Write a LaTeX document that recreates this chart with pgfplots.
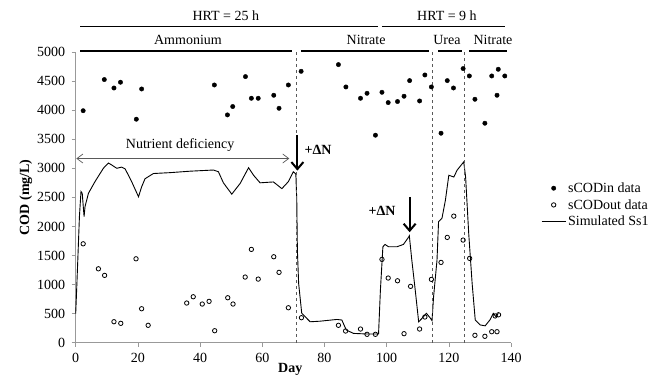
\documentclass[border=0pt]{standalone}
\usepackage{fontspec}
\setmainfont{Liberation Serif}
\usepackage{pgfplots}
\pgfplotsset{compat=1.18}
\usetikzlibrary{arrows.meta}
\newcommand{\ff}{\fontsize{14}{16}\selectfont}
\pgfplotsset{
  legmark/.style={legend image code/.code={\draw[mark repeat=2,mark phase=2,##1] plot coordinates {(0pt,0pt)(12pt,0pt)(24pt,0pt)};}},
  legline/.style={legend image code/.code={\draw[##1] (0pt,0pt)--(24pt,0pt);}},
}
\begin{document}
\begin{tikzpicture}
\useasboundingbox (-75.7pt,-34.3pt) rectangle (580.3pt,342.7pt);
\begin{axis}[
  scale only axis, width=435.3pt, height=290.7pt,
  xmin=0, xmax=140, ymin=0, ymax=5000,
  axis lines*=left,
  axis line style={gray!80, line width=0.6pt},
  tick align=outside,
  major tick length=4pt,
  tick style={gray!80, line width=0.6pt},
  xtick={0,20,...,140},
  ytick={0,500,...,5000},
  /pgf/number format/assume math mode=true,
  /pgf/number format/1000 sep={},
  tick label style={font=\ff, black},
  yticklabel style={xshift=-3pt},
  xticklabel style={yshift=-3pt},
  xlabel={\textbf{Day}},
  ylabel={\textbf{COD (mg/L)}},
  label style={font=\ff},
  xlabel style={at={(axis cs:69,0)}, anchor=center, yshift=-26.5pt},
  ylabel style={yshift=-2pt},
  clip=false,
  legend style={at={(1.069,0.474)}, anchor=west, draw=none, fill=none, font=\ff,
    row sep=1.5pt, inner sep=0pt},
  legend cell align=left,
]
% sCODin
\addplot[only marks, mark=*, mark size=2.2pt, black, legmark]
coordinates {
(2.4,3990)(9.2,4526)(12.3,4381)(14.4,4480)(19.5,3844)(21.2,4364)
(44.6,4433)(48.8,3918)(50.5,4062)(54.6,4577)(56.5,4204)(58.7,4204)
(63.7,4256)(65.4,4032)(68.4,4433)(72.5,4668)(84.5,4783)(86.9,4399)
(91.6,4204)(93.7,4290)(96.4,3569)(98.5,4307)(100.5,4130)(103.5,4148)
(105.6,4239)(107.4,4508)(110.6,4158)(112.3,4605)(114.4,4399)(117.5,3603)
(119.5,4508)(121.5,4381)(124.6,4715)(126.6,4588)(128.4,4187)(131.6,3775)
(133.8,4588)(135.5,4256)(135.9,4703)(138,4588)
};
\addlegendentry{sCODin data}
% sCODout
\addplot[only marks, mark=o, mark size=2.2pt, black, mark options={line width=0.8pt}, legmark]
coordinates {
(2.4,1701)(7.3,1271)(9.3,1158)(12.3,361)(14.5,333)(19.4,1443)(21.2,584)(23.3,299)
(35.7,682)(37.8,790)(40.7,665)(42.9,711)(44.7,206)(48.9,773)(50.6,665)
(54.5,1129)(56.5,1605)(58.7,1094)(63.7,1478)(65.4,1210)(68.4,601)(72.6,430)
(84.5,299)(86.8,201)(91.6,235)(93.7,144)(96.4,144)(98.5,1433)(100.5,1112)
(103.5,1065)(105.6,155)(107.7,969)(110.6,235)(112.3,442)(114.4,1089)
(117.5,1381)(119.5,1811)(121.6,2177)(124.6,1765)(126.7,1450)(128.4,127)
(131.6,110)(133.8,189)(135.5,189)(134.9,460)(136,480)
};
\addlegendentry{sCODout data}
% Simulated
\addplot[black, line width=0.9pt, no marks, legline]
coordinates {
(0,500)(0.3,900)(0.8,1600)(1.2,2170)(1.7,2600)(2.1,2570)(2.5,2300)(2.7,2170)
(3.0,2340)(4.1,2570)(6.2,2770)(8.9,3000)(10.5,3090)(11.5,3060)(13.2,3000)
(14.8,3020)(15.9,2990)(18.0,2770)(20.2,2510)(21.2,2680)(22.3,2820)(25,2910)
(30.4,2925)(36.8,2950)(44.3,2970)(45.9,2940)(47.5,2750)(50.2,2555)(52.9,2740)
(55.6,3010)(57.2,2880)(59.3,2750)(63.6,2765)(66.3,2650)(68.4,2770)(70.0,2940)
(70.8,2900)(71.1,2450)(71.3,1590)(71.7,1020)(72.7,505)(75.4,360)(78.6,370)
(84,400)(85.6,390)(87,220)(89.3,160)(93.6,150)(97.4,150)(98.0,905)(98.8,1650)
(99.5,1690)(100.6,1650)(103.3,1650)(105.4,1690)(107.0,1810)(107.3,1840)
(108.1,1420)(109.2,905)(110.3,360)(111.4,420)(112.8,505)(114.1,420)(114.6,380)
(115.1,790)(116.2,1420)(116.7,2080)(117.8,2140)(118.9,2450)(120,2880)
(121.6,2850)(122.7,2970)(124.8,3110)(125.4,2850)(126.4,1880)(127.5,1020)
(128.5,390)(130.1,305)(131.7,290)(133.2,390)(134.3,505)(135.2,445)(135.9,505)
};
\addlegendentry{Simulated Ss1}

% dashed vertical separators
\draw[gray!70!black, dashed, line width=0.7pt] (axis cs:71.1,0) -- (axis cs:71.1,5030);
\draw[gray!70!black, dashed, line width=0.7pt] (axis cs:114.8,0) -- (axis cs:114.8,5030);
\draw[gray!70!black, dashed, line width=0.7pt] (axis cs:125.1,0) -- (axis cs:125.1,5030);

% top annotation rows
\draw[black, line width=1.3pt] (axis cs:1.4,5435) -- (axis cs:97.2,5435);
\draw[black, line width=1.3pt] (axis cs:98.5,5435) -- (axis cs:138.1,5435);
\node[font=\ff] at (axis cs:48.3,5619) {HRT = 25 h};
\node[font=\ff] at (axis cs:119.4,5619) {HRT = 9 h};
\draw[black, line width=1.3pt] (axis cs:1.4,5017) -- (axis cs:69.7,5017);
\draw[black, line width=1.3pt] (axis cs:72.5,5017) -- (axis cs:113.7,5017);
\draw[black, line width=1.3pt] (axis cs:116.6,5017) -- (axis cs:124.3,5017);
\draw[black, line width=1.3pt] (axis cs:126.5,5017) -- (axis cs:138.7,5017);
\node[font=\ff] at (axis cs:36.1,5200) {Ammonium};
\node[font=\ff] at (axis cs:93.4,5200) {Nitrate};
\node[font=\ff] at (axis cs:119.4,5200) {Urea};
\node[font=\ff] at (axis cs:134.2,5200) {Nitrate};

% nutrient deficiency
\draw[gray!70!black, line width=0.7pt, {Straight Barb[length=6pt,width=9pt]}-{Straight Barb[length=6pt,width=9pt]}]
  (axis cs:0.2,3168) -- (axis cs:68.7,3168);
\node[font=\ff] at (axis cs:33.6,3400) {Nutrient deficiency};

% +DeltaN arrows
\draw[black, line width=2pt, -{Straight Barb[length=7pt,width=12pt]}] (axis cs:71.3,3570) -- (axis cs:71.3,2960);
\node[font=\ff, anchor=west] at (axis cs:72.5,3310) {\textbf{+ΔN}};
\draw[black, line width=2pt, -{Straight Barb[length=7pt,width=12pt]}] (axis cs:107.4,2510) -- (axis cs:107.4,1900);
\node[font=\ff] at (axis cs:98.5,2268) {\textbf{+ΔN}};
\end{axis}
\end{tikzpicture}
\end{document}
